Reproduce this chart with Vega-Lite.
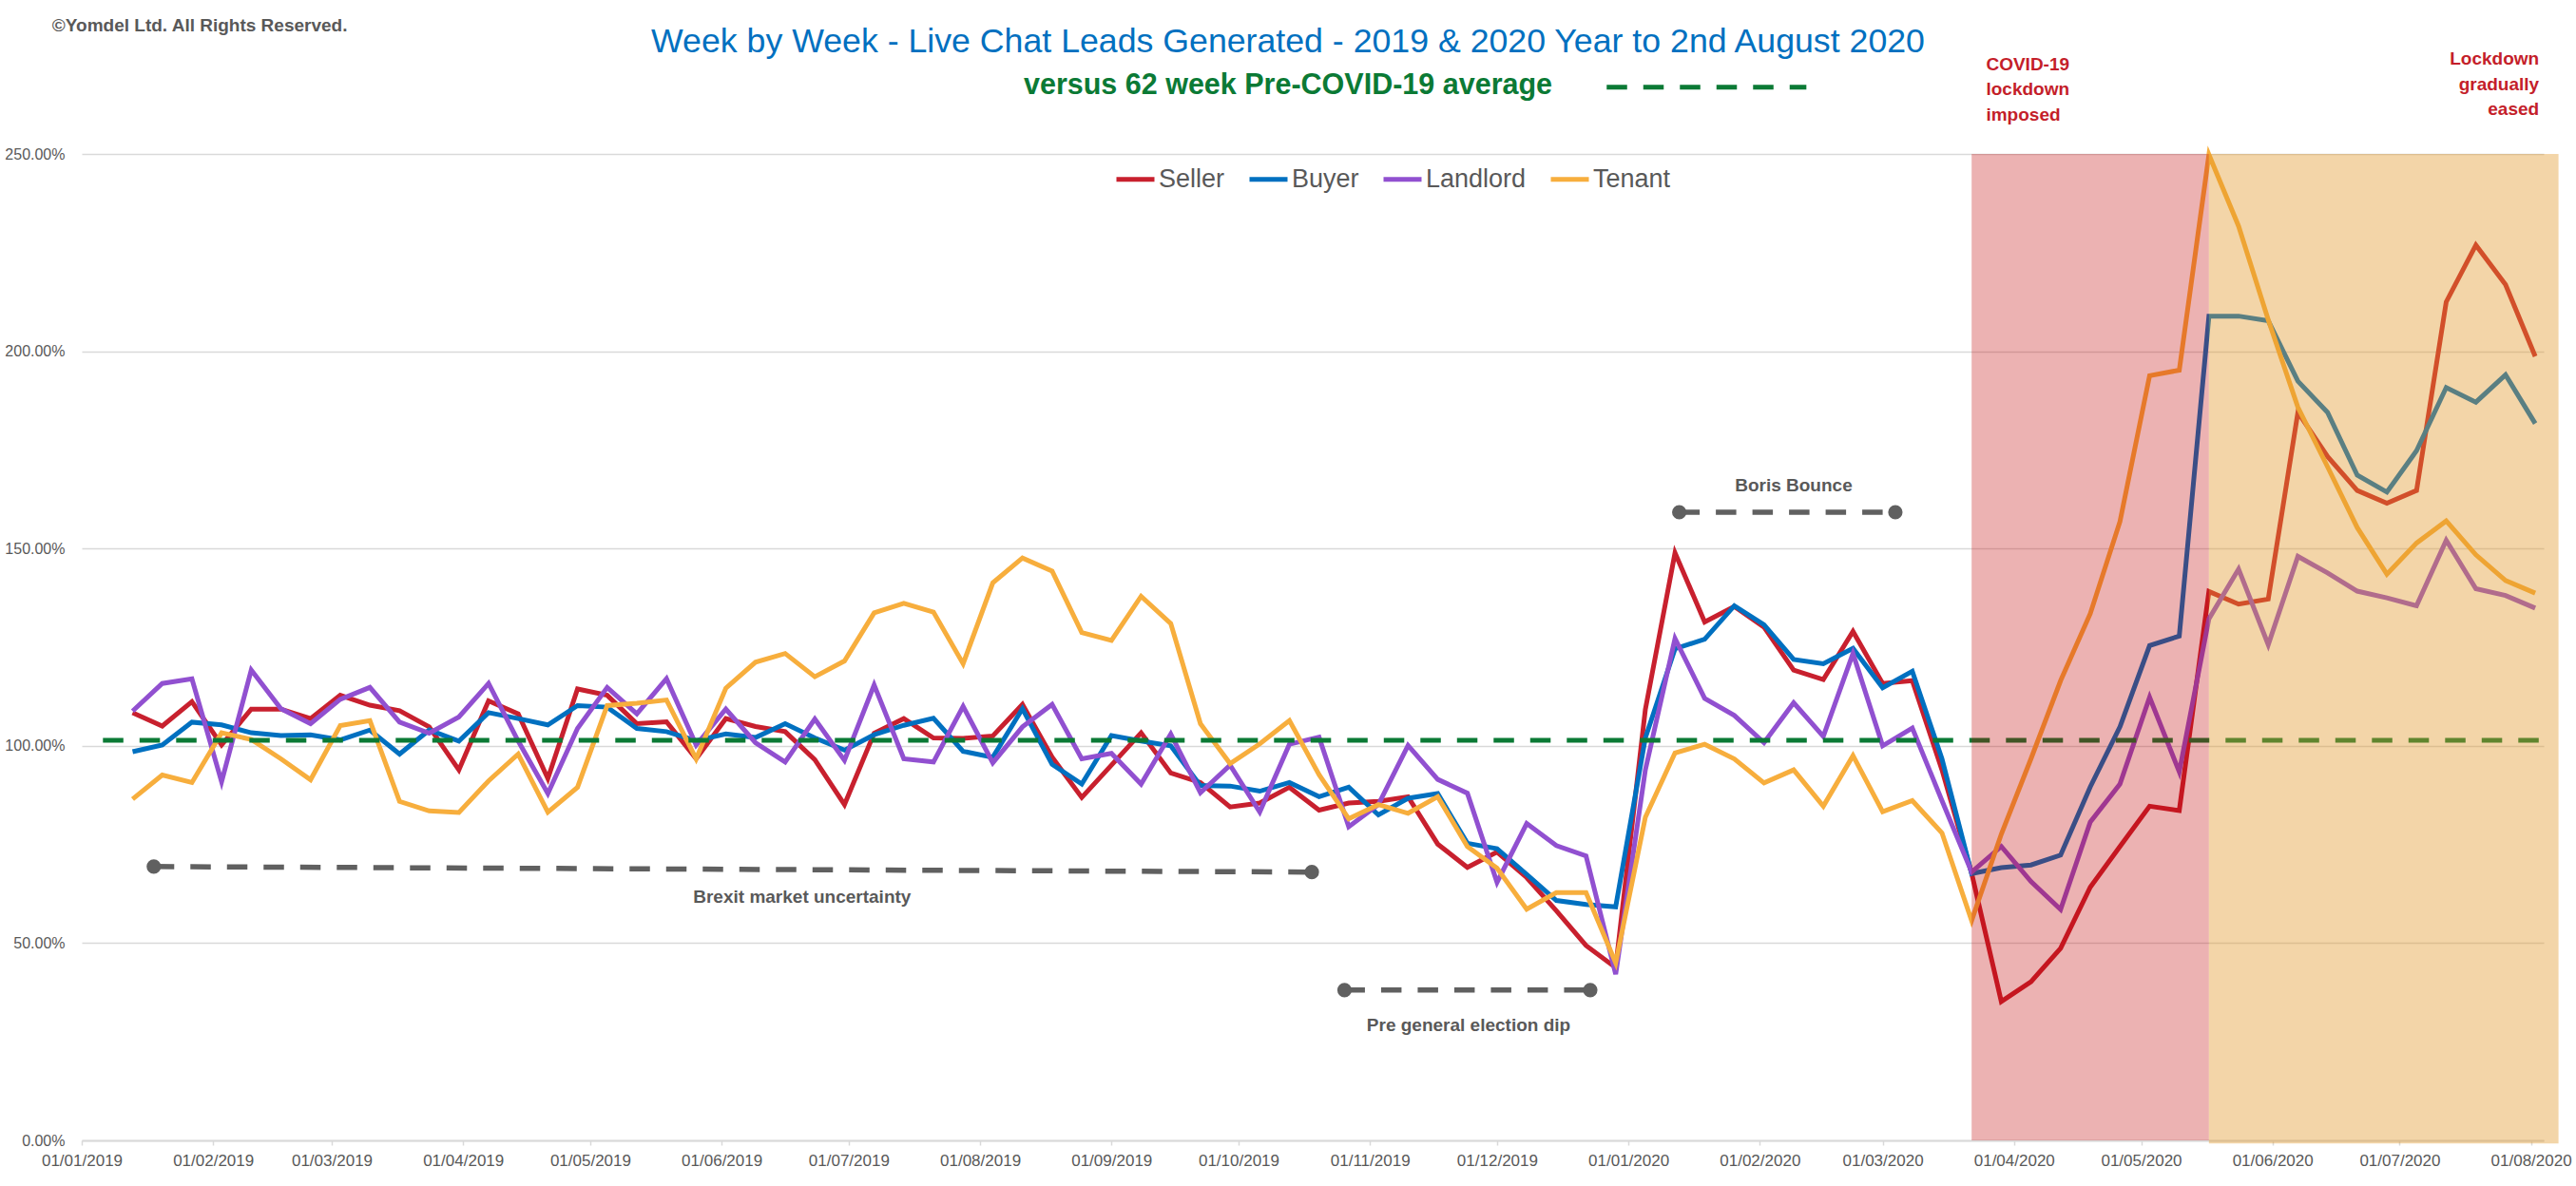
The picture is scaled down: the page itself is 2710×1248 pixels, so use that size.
{
  "$schema": "https://vega.github.io/schema/vega-lite/v6.json",
  "autosize": "none",
  "width": 2590,
  "height": 1038,
  "padding": {"left": 86, "top": 162, "right": 34, "bottom": 48},
  "background": "white",
  "config": {
    "view": {"stroke": null},
    "font": "Liberation Sans",
    "axis": {"labelFont": "Liberation Sans", "labelColor": "#595959", "title": null}
  },
  "title": {
    "text": "Week by Week - Live Chat Leads Generated - 2019 & 2020 Year to 2nd August 2020",
    "subtitle": "versus 62 week Pre-COVID-19 average",
    "anchor": "middle",
    "dx": -26,
    "offset": -89,
    "font": "Liberation Sans",
    "fontSize": 35.7,
    "fontWeight": "normal",
    "color": "#0070C0",
    "subtitleFont": "Liberation Sans",
    "subtitleFontSize": 30.5,
    "subtitleFontWeight": "bold",
    "subtitleColor": "#0B7A35",
    "subtitlePadding": 13
  },
  "datasets": {
    "weekly": [
      {"week": "2019-01-13", "Seller": 1.084, "Buyer": 0.985, "Landlord": 1.088, "Tenant": 0.865},
      {"week": "2019-01-20", "Seller": 1.050, "Buyer": 1.002, "Landlord": 1.158, "Tenant": 0.926},
      {"week": "2019-01-27", "Seller": 1.112, "Buyer": 1.060, "Landlord": 1.170, "Tenant": 0.907},
      {"week": "2019-02-03", "Seller": 1.002, "Buyer": 1.053, "Landlord": 0.909, "Tenant": 1.033},
      {"week": "2019-02-10", "Seller": 1.093, "Buyer": 1.033, "Landlord": 1.192, "Tenant": 1.016},
      {"week": "2019-02-17", "Seller": 1.093, "Buyer": 1.026, "Landlord": 1.094, "Tenant": 0.967},
      {"week": "2019-02-24", "Seller": 1.069, "Buyer": 1.028, "Landlord": 1.056, "Tenant": 0.914},
      {"week": "2019-03-03", "Seller": 1.128, "Buyer": 1.015, "Landlord": 1.118, "Tenant": 1.051},
      {"week": "2019-03-10", "Seller": 1.103, "Buyer": 1.040, "Landlord": 1.148, "Tenant": 1.064},
      {"week": "2019-03-17", "Seller": 1.089, "Buyer": 0.979, "Landlord": 1.060, "Tenant": 0.859},
      {"week": "2019-03-24", "Seller": 1.048, "Buyer": 1.040, "Landlord": 1.032, "Tenant": 0.835},
      {"week": "2019-03-31", "Seller": 0.939, "Buyer": 1.012, "Landlord": 1.073, "Tenant": 0.831},
      {"week": "2019-04-07", "Seller": 1.114, "Buyer": 1.084, "Landlord": 1.158, "Tenant": 0.911},
      {"week": "2019-04-14", "Seller": 1.081, "Buyer": 1.069, "Landlord": 1.012, "Tenant": 0.979},
      {"week": "2019-04-21", "Seller": 0.917, "Buyer": 1.053, "Landlord": 0.879, "Tenant": 0.832},
      {"week": "2019-04-28", "Seller": 1.144, "Buyer": 1.102, "Landlord": 1.044, "Tenant": 0.895},
      {"week": "2019-05-05", "Seller": 1.128, "Buyer": 1.098, "Landlord": 1.148, "Tenant": 1.102},
      {"week": "2019-05-12", "Seller": 1.056, "Buyer": 1.044, "Landlord": 1.081, "Tenant": 1.108},
      {"week": "2019-05-19", "Seller": 1.061, "Buyer": 1.036, "Landlord": 1.170, "Tenant": 1.116},
      {"week": "2019-05-26", "Seller": 0.967, "Buyer": 1.013, "Landlord": 1.002, "Tenant": 0.967},
      {"week": "2019-06-02", "Seller": 1.069, "Buyer": 1.030, "Landlord": 1.093, "Tenant": 1.146},
      {"week": "2019-06-09", "Seller": 1.049, "Buyer": 1.021, "Landlord": 1.008, "Tenant": 1.212},
      {"week": "2019-06-16", "Seller": 1.036, "Buyer": 1.056, "Landlord": 0.959, "Tenant": 1.234},
      {"week": "2019-06-23", "Seller": 0.965, "Buyer": 1.020, "Landlord": 1.068, "Tenant": 1.175},
      {"week": "2019-06-30", "Seller": 0.851, "Buyer": 0.989, "Landlord": 0.963, "Tenant": 1.215},
      {"week": "2019-07-07", "Seller": 1.032, "Buyer": 1.028, "Landlord": 1.154, "Tenant": 1.337},
      {"week": "2019-07-14", "Seller": 1.069, "Buyer": 1.052, "Landlord": 0.967, "Tenant": 1.361},
      {"week": "2019-07-21", "Seller": 1.020, "Buyer": 1.070, "Landlord": 0.959, "Tenant": 1.339},
      {"week": "2019-07-28", "Seller": 1.019, "Buyer": 0.986, "Landlord": 1.100, "Tenant": 1.208},
      {"week": "2019-08-04", "Seller": 1.025, "Buyer": 0.971, "Landlord": 0.957, "Tenant": 1.413},
      {"week": "2019-08-11", "Seller": 1.105, "Buyer": 1.094, "Landlord": 1.048, "Tenant": 1.476},
      {"week": "2019-08-18", "Seller": 0.971, "Buyer": 0.953, "Landlord": 1.105, "Tenant": 1.443},
      {"week": "2019-08-25", "Seller": 0.869, "Buyer": 0.903, "Landlord": 0.967, "Tenant": 1.287},
      {"week": "2019-09-01", "Seller": 0.951, "Buyer": 1.026, "Landlord": 0.981, "Tenant": 1.267},
      {"week": "2019-09-08", "Seller": 1.033, "Buyer": 1.012, "Landlord": 0.903, "Tenant": 1.379},
      {"week": "2019-09-15", "Seller": 0.931, "Buyer": 1.000, "Landlord": 1.030, "Tenant": 1.310},
      {"week": "2019-09-22", "Seller": 0.907, "Buyer": 0.899, "Landlord": 0.881, "Tenant": 1.056},
      {"week": "2019-09-29", "Seller": 0.845, "Buyer": 0.898, "Landlord": 0.951, "Tenant": 0.955},
      {"week": "2019-10-06", "Seller": 0.855, "Buyer": 0.885, "Landlord": 0.832, "Tenant": 1.005},
      {"week": "2019-10-13", "Seller": 0.895, "Buyer": 0.907, "Landlord": 1.004, "Tenant": 1.064},
      {"week": "2019-10-20", "Seller": 0.837, "Buyer": 0.871, "Landlord": 1.022, "Tenant": 0.927},
      {"week": "2019-10-27", "Seller": 0.855, "Buyer": 0.895, "Landlord": 0.795, "Tenant": 0.815},
      {"week": "2019-11-03", "Seller": 0.859, "Buyer": 0.825, "Landlord": 0.851, "Tenant": 0.851},
      {"week": "2019-11-10", "Seller": 0.871, "Buyer": 0.867, "Landlord": 1.001, "Tenant": 0.829},
      {"week": "2019-11-17", "Seller": 0.751, "Buyer": 0.879, "Landlord": 0.915, "Tenant": 0.871},
      {"week": "2019-11-24", "Seller": 0.692, "Buyer": 0.753, "Landlord": 0.880, "Tenant": 0.745},
      {"week": "2019-12-01", "Seller": 0.731, "Buyer": 0.739, "Landlord": 0.654, "Tenant": 0.690},
      {"week": "2019-12-08", "Seller": 0.666, "Buyer": 0.674, "Landlord": 0.803, "Tenant": 0.586},
      {"week": "2019-12-15", "Seller": 0.582, "Buyer": 0.608, "Landlord": 0.747, "Tenant": 0.628},
      {"week": "2019-12-22", "Seller": 0.494, "Buyer": 0.598, "Landlord": 0.721, "Tenant": 0.628},
      {"week": "2019-12-29", "Seller": 0.438, "Buyer": 0.592, "Landlord": 0.421, "Tenant": 0.450},
      {"week": "2020-01-05", "Seller": 1.092, "Buyer": 1.020, "Landlord": 0.939, "Tenant": 0.819},
      {"week": "2020-01-12", "Seller": 1.489, "Buyer": 1.246, "Landlord": 1.272, "Tenant": 0.982},
      {"week": "2020-01-19", "Seller": 1.314, "Buyer": 1.270, "Landlord": 1.120, "Tenant": 1.004},
      {"week": "2020-01-26", "Seller": 1.353, "Buyer": 1.355, "Landlord": 1.077, "Tenant": 0.967},
      {"week": "2020-02-02", "Seller": 1.301, "Buyer": 1.307, "Landlord": 1.008, "Tenant": 0.906},
      {"week": "2020-02-09", "Seller": 1.192, "Buyer": 1.219, "Landlord": 1.109, "Tenant": 0.939},
      {"week": "2020-02-16", "Seller": 1.168, "Buyer": 1.208, "Landlord": 1.024, "Tenant": 0.847},
      {"week": "2020-02-23", "Seller": 1.290, "Buyer": 1.247, "Landlord": 1.234, "Tenant": 0.975},
      {"week": "2020-03-01", "Seller": 1.158, "Buyer": 1.147, "Landlord": 1.000, "Tenant": 0.833},
      {"week": "2020-03-08", "Seller": 1.165, "Buyer": 1.189, "Landlord": 1.045, "Tenant": 0.861},
      {"week": "2020-03-15", "Seller": 0.939, "Buyer": 0.967, "Landlord": 0.861, "Tenant": 0.779},
      {"week": "2020-03-22", "Seller": 0.677, "Buyer": 0.676, "Landlord": 0.680, "Tenant": 0.557},
      {"week": "2020-03-29", "Seller": 0.352, "Buyer": 0.691, "Landlord": 0.745, "Tenant": 0.776},
      {"week": "2020-04-05", "Seller": 0.402, "Buyer": 0.698, "Landlord": 0.656, "Tenant": 0.967},
      {"week": "2020-04-12", "Seller": 0.487, "Buyer": 0.723, "Landlord": 0.585, "Tenant": 1.165},
      {"week": "2020-04-19", "Seller": 0.642, "Buyer": 0.896, "Landlord": 0.807, "Tenant": 1.335},
      {"week": "2020-04-26", "Seller": 0.745, "Buyer": 1.048, "Landlord": 0.903, "Tenant": 1.568},
      {"week": "2020-05-03", "Seller": 0.847, "Buyer": 1.254, "Landlord": 1.123, "Tenant": 1.938},
      {"week": "2020-05-10", "Seller": 0.836, "Buyer": 1.278, "Landlord": 0.934, "Tenant": 1.952},
      {"week": "2020-05-17", "Seller": 1.391, "Buyer": 2.089, "Landlord": 1.322, "Tenant": 2.498},
      {"week": "2020-05-24", "Seller": 1.359, "Buyer": 2.089, "Landlord": 1.448, "Tenant": 2.317},
      {"week": "2020-05-31", "Seller": 1.372, "Buyer": 2.077, "Landlord": 1.256, "Tenant": 2.080},
      {"week": "2020-06-07", "Seller": 1.845, "Buyer": 1.924, "Landlord": 1.480, "Tenant": 1.858},
      {"week": "2020-06-14", "Seller": 1.733, "Buyer": 1.845, "Landlord": 1.438, "Tenant": 1.707},
      {"week": "2020-06-21", "Seller": 1.647, "Buyer": 1.686, "Landlord": 1.392, "Tenant": 1.553},
      {"week": "2020-06-28", "Seller": 1.615, "Buyer": 1.643, "Landlord": 1.375, "Tenant": 1.435},
      {"week": "2020-07-05", "Seller": 1.647, "Buyer": 1.748, "Landlord": 1.355, "Tenant": 1.514},
      {"week": "2020-07-12", "Seller": 2.125, "Buyer": 1.908, "Landlord": 1.521, "Tenant": 1.570},
      {"week": "2020-07-19", "Seller": 2.269, "Buyer": 1.871, "Landlord": 1.398, "Tenant": 1.484},
      {"week": "2020-07-26", "Seller": 2.169, "Buyer": 1.940, "Landlord": 1.381, "Tenant": 1.419},
      {"week": "2020-08-02", "Seller": 1.987, "Buyer": 1.817, "Landlord": 1.349, "Tenant": 1.387}
    ],
    "average": [
      {"kind": "line", "start": "2019-01-06", "end": "2020-08-04", "value": 1.014},
      {"kind": "key", "start": "2019-12-26T21:00:00", "end": "2020-02-12", "value": 2.669}
    ],
    "periods": [
      {"phase": "imposed", "start": "2020-03-22", "end": "2020-05-17"},
      {"phase": "eased", "start": "2020-05-17", "end": "2020-08-07T12:00:00"}
    ],
    "spans": [
      {"label": "Brexit market uncertainty", "start": "2019-01-18", "end": "2019-10-18T07:00:00", "from": 0.694, "to": 0.680, "labelAt": "2019-06-20", "labelValue": 0.602},
      {"label": "Pre general election dip", "start": "2019-10-26", "end": "2019-12-23", "from": 0.381, "to": 0.381, "labelAt": "2019-11-24T07:00:00", "labelValue": 0.277},
      {"label": "Boris Bounce", "start": "2020-01-13", "end": "2020-03-04", "from": 1.592, "to": 1.592, "labelAt": "2020-02-09", "labelValue": 1.645}
    ],
    "notes": [
      {"kind": "copyright", "text": ["©Yomdel Ltd. All Rights Reserved."], "at": "2018-12-25", "value": 2.811},
      {"kind": "imposed", "text": ["COVID-19", "lockdown", "imposed"], "at": "2020-03-25T10:00:00", "value": 2.712},
      {"kind": "eased", "text": ["Lockdown", "gradually", "eased"], "at": "2020-08-02T22:00:00", "value": 2.726}
    ]
  },
  "layer": [
    {
      "data": {"name": "weekly"},
      "transform": [{"fold": ["Seller", "Buyer", "Landlord", "Tenant"], "as": ["series", "share"]}],
      "mark": {"type": "line", "strokeWidth": 5},
      "encoding": {
        "x": {
          "field": "week", "type": "temporal",
          "scale": {"domain": ["2019-01-01", "2020-08-04"], "nice": false},
          "axis": {
            "format": "%d/%m/%Y", "tickCount": {"interval": "month", "step": 1},
            "labelFontSize": 17, "labelPadding": 8, "labelOverlap": false, "labelFlush": false,
            "domainColor": "#D9D9D9", "domainWidth": 2,
            "tickColor": "#D9D9D9", "tickSize": 5, "tickWidth": 1.5, "grid": false
          }
        },
        "y": {
          "field": "share", "type": "quantitative",
          "scale": {"domain": [0, 2.5], "nice": false, "zero": false},
          "axis": {
            "values": [0, 0.5, 1, 1.5, 2, 2.5], "format": ".2%",
            "labelFontSize": 16, "labelPadding": 18, "ticks": false, "domain": false,
            "gridColor": "#D9D9D9", "gridWidth": 1.6
          }
        },
        "color": {
          "field": "series", "type": "nominal",
          "scale": {"domain": ["Seller", "Buyer", "Landlord", "Tenant"], "range": ["#C8202E", "#0070C0", "#9150D0", "#F7AE3D"]},
          "legend": {
            "title": null, "orient": "none", "legendX": 1086, "legendY": 4,
            "direction": "horizontal", "columns": 4, "padding": 0,
            "symbolType": "stroke", "symbolSize": 1600, "symbolStrokeWidth": 5,
            "labelFont": "Liberation Sans", "labelFontSize": 27, "labelColor": "#595959",
            "labelOffset": 2, "columnPadding": 15
          }
        }
      }
    },
    {
      "data": {"name": "average"},
      "mark": {"type": "rule", "color": "#0B7A35", "strokeWidth": 5, "strokeDash": [21.5, 17]},
      "encoding": {
        "x": {"field": "start", "type": "temporal"},
        "x2": {"field": "end"},
        "y": {"field": "value", "type": "quantitative"}
      }
    },
    {
      "data": {"name": "periods"},
      "transform": [{"filter": "datum.phase === 'imposed'"}],
      "mark": {"type": "rect", "color": "#C00000", "opacity": 0.3},
      "encoding": {
        "x": {"field": "start", "type": "temporal"},
        "x2": {"field": "end"},
        "y": {"datum": 0, "type": "quantitative"},
        "y2": {"datum": 2.5}
      }
    },
    {
      "data": {"name": "periods"},
      "transform": [{"filter": "datum.phase === 'eased'"}],
      "mark": {"type": "rect", "color": "#E19626", "opacity": 0.4},
      "encoding": {
        "x": {"field": "start", "type": "temporal"},
        "x2": {"field": "end"},
        "y": {"datum": -0.008, "type": "quantitative"},
        "y2": {"datum": 2.5}
      }
    },
    {
      "data": {"name": "spans"},
      "mark": {"type": "rule", "color": "#606060", "strokeWidth": 5.5, "strokeDash": [21.5, 17]},
      "encoding": {
        "x": {"field": "start", "type": "temporal"},
        "x2": {"field": "end"},
        "y": {"field": "from", "type": "quantitative"},
        "y2": {"field": "to"}
      }
    },
    {
      "data": {"name": "spans"},
      "mark": {"type": "point", "shape": "circle", "filled": true, "size": 230, "color": "#606060", "opacity": 1},
      "encoding": {
        "x": {"field": "start", "type": "temporal"},
        "y": {"field": "from", "type": "quantitative"}
      }
    },
    {
      "data": {"name": "spans"},
      "mark": {"type": "point", "shape": "circle", "filled": true, "size": 230, "color": "#606060", "opacity": 1},
      "encoding": {
        "x": {"field": "end", "type": "temporal"},
        "y": {"field": "to", "type": "quantitative"}
      }
    },
    {
      "data": {"name": "spans"},
      "mark": {"type": "text", "font": "Liberation Sans", "fontWeight": "bold", "fontSize": 19, "color": "#595959", "align": "center", "baseline": "alphabetic"},
      "encoding": {
        "x": {"field": "labelAt", "type": "temporal"},
        "y": {"field": "labelValue", "type": "quantitative"},
        "text": {"field": "label"}
      }
    },
    {
      "data": {"name": "notes"},
      "transform": [{"filter": "datum.kind === 'copyright'"}],
      "mark": {"type": "text", "font": "Liberation Sans", "fontWeight": "bold", "fontSize": 19, "color": "#595959", "align": "left", "baseline": "alphabetic"},
      "encoding": {
        "x": {"field": "at", "type": "temporal"},
        "y": {"field": "value", "type": "quantitative"},
        "text": {"field": "text"}
      }
    },
    {
      "data": {"name": "notes"},
      "transform": [{"filter": "datum.kind === 'imposed'"}],
      "mark": {"type": "text", "font": "Liberation Sans", "fontWeight": "bold", "fontSize": 19, "lineHeight": 26.3, "color": "#C41E2A", "align": "left", "baseline": "alphabetic"},
      "encoding": {
        "x": {"field": "at", "type": "temporal"},
        "y": {"field": "value", "type": "quantitative"},
        "text": {"field": "text"}
      }
    },
    {
      "data": {"name": "notes"},
      "transform": [{"filter": "datum.kind === 'eased'"}],
      "mark": {"type": "text", "font": "Liberation Sans", "fontWeight": "bold", "fontSize": 19, "lineHeight": 26.6, "color": "#C41E2A", "align": "right", "baseline": "alphabetic"},
      "encoding": {
        "x": {"field": "at", "type": "temporal"},
        "y": {"field": "value", "type": "quantitative"},
        "text": {"field": "text"}
      }
    }
  ]
}
